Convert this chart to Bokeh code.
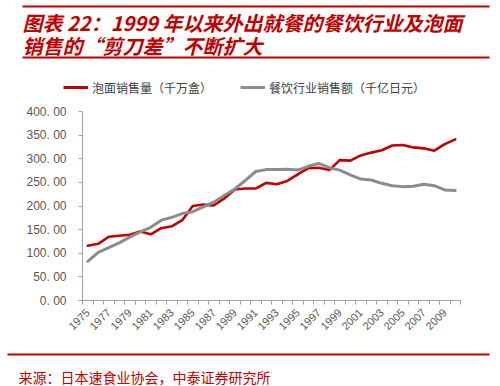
import math
from bokeh.plotting import figure
from bokeh.layouts import column, row
from bokeh.models import Range1d, FixedTicker, Legend, LegendItem, ColumnDataSource
from bokeh.core.properties import value
from bokeh.embed import file_html
from bokeh.resources import INLINE

# ---- data ----
years = list(range(1975, 2011))
noodle_sales = [116, 120, 135, 137, 139, 146, 140, 153, 157, 170,
                200, 203, 201, 216, 235, 237, 237, 249, 246, 253,
                267, 280, 281, 276, 297, 296, 307, 313, 318, 328,
                329, 324, 322, 317, 331, 341]
restaurant_sales = [83, 102, 112, 122, 134, 145, 155, 170, 176, 184,
                    188, 198, 208, 222, 236, 254, 273, 277, 277, 278,
                    276, 284, 290, 281, 276, 266, 257, 255, 248, 243,
                    241, 242, 246, 243, 234, 233]
y_ticks = [0, 50, 100, 150, 200, 250, 300, 350, 400]
series_names = ["泡面销售量（千万盒）", "餐饮行业销售额（千亿日元）"]
title_lines = ["图表 22：1999 年以来外出就餐的餐饮行业及泡面", "销售的“剪刀差”不断扩大"]
source_text = "来源：日本速食业协会，中泰证券研究所"

RED = "#c00000"
GRAY = "#8c8c8c"
AXIS = "#a0a0a0"
TICKTXT = "#595959"
CJK = "Noto Sans CJK SC"

W = 500
H1, H2, H3 = 100, 245, 41
N = len(years)


def blank(h):
    f = figure(width=W, height=h, output_backend="svg", toolbar_location=None,
               x_range=Range1d(0, W), y_range=Range1d(0, h),
               x_axis_type=None, y_axis_type=None, min_border=0)
    f.outline_line_color = None
    f.xgrid.visible = False
    f.ygrid.visible = False
    f.border_fill_color = "white"
    f.background_fill_color = "white"
    return f


# ---- header: title, rules, legend (y measured upward from the header's bottom) ----
head = blank(H1)
head.quad(left=[22, 22], right=[489, 489], top=[H1 - 5, H1 - 56], bottom=[H1 - 7, H1 - 58],
          fill_color=RED, line_color=None)
head.text(x=[22, 22], y=[H1 - 21.5, H1 - 45], text=title_lines, text_font=value(CJK),
          text_font_style="bold italic", text_font_size="20px", text_color=RED,
          text_align="left", text_baseline="middle")
# legend keys: renderers styled like the series, with their point kept off-canvas
key_src = ColumnDataSource(dict(x=[-50, -40], y=[-50, -50]))
d1 = head.line("x", "y", source=key_src, line_color=RED, line_width=3)
d2 = head.line("x", "y", source=key_src, line_color=GRAY, line_width=3)
legend = Legend(items=[LegendItem(label=series_names[0], renderers=[d1]),
                       LegendItem(label=series_names[1], renderers=[d2])],
                orientation="horizontal", location=(63, 3),
                padding=0, margin=0, spacing=28, glyph_width=25, label_standoff=4,
                label_text_font=CJK, label_text_font_size="12px",
                label_text_color="#404040", background_fill_alpha=0, border_line_color=None)
head.add_layout(legend, "center")

# ---- main chart ----
p = figure(width=W, height=H2, output_backend="svg", toolbar_location=None,
           x_range=Range1d(-0.5, N - 0.5), y_range=Range1d(0, 400),
           min_border_left=82, min_border_right=40,
           min_border_top=11, min_border_bottom=45)
p.outline_line_color = None
p.xgrid.grid_line_color = None
p.ygrid.grid_line_color = None

src = ColumnDataSource(dict(x=list(range(N)), noodle=noodle_sales, rest=restaurant_sales))
p.line("x", "noodle", source=src, line_color=RED, line_width=2.6, line_join="round", line_cap="round")
p.line("x", "rest", source=src, line_color=GRAY, line_width=3, line_join="round", line_cap="round")

xa = p.xaxis[0]
xa.ticker = FixedTicker(ticks=list(range(0, N, 2)), minor_ticks=[i - 0.5 for i in range(N + 1)])
xa.major_label_overrides = {i: str(years[i]) for i in range(0, N, 2)}
xa.major_tick_line_color = None
xa.minor_tick_line_color = AXIS
xa.minor_tick_out = 4
xa.minor_tick_in = 0
xa.axis_line_color = AXIS
xa.major_label_orientation = math.pi / 4
xa.major_label_text_font = "Liberation Sans"
xa.major_label_text_font_size = "11px"
xa.major_label_text_color = TICKTXT
xa.major_label_standoff = 4

ya = p.yaxis[0]
ya.ticker = FixedTicker(ticks=y_ticks, minor_ticks=[])
ya.major_label_overrides = {v: ("%.2f" % v).replace(".", ". ") for v in y_ticks}
ya.major_tick_line_color = AXIS
ya.major_tick_out = 4
ya.major_tick_in = 0
ya.minor_tick_line_color = None
ya.axis_line_color = AXIS
ya.major_label_text_font = "Liberation Sans"
ya.major_label_text_font_size = "12px"
ya.major_label_text_color = TICKTXT
ya.major_label_standoff = 12

# ---- footer: rule + source ----
foot = blank(H3)
foot.quad(left=[7], right=[489], top=[H3 - 8], bottom=[H3 - 10], fill_color=RED, line_color=None)
foot.text(x=[18], y=[H3 - 31], text=[source_text], text_font=value(CJK),
          text_font_size="14px", text_color=RED, text_align="left", text_baseline="middle")

layout = column(row(head), row(p), row(foot), spacing=0)
open("out.html", "w").write(file_html(layout, INLINE))
